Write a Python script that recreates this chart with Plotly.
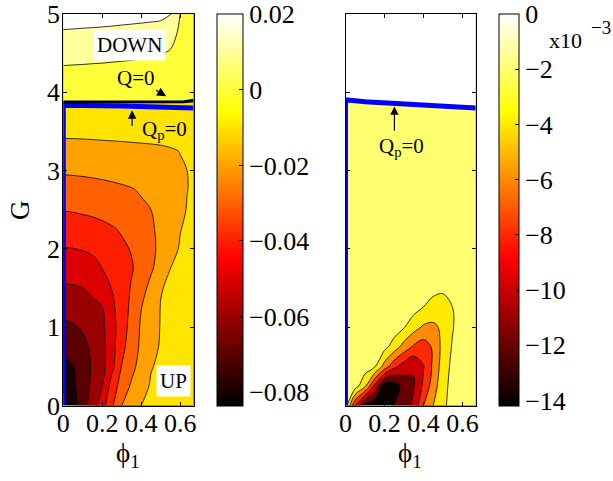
import plotly.graph_objects as go

W, H = 613, 481

# ---------------- data ----------------
X_GRID = [0, 0.05, 0.1, 0.15, 0.2, 0.25, 0.3, 0.35, 0.4, 0.45, 0.5, 0.55, 0.6, 0.635, 0.668]

# left panel field, units of 1e-3
Y_LEFT = [0, 0.25, 0.5, 0.75, 1.0, 1.25, 1.5, 1.75, 2.0, 2.25, 2.5, 2.75,
          3.0, 3.25, 3.5, 3.75, 4.0, 4.25, 4.5, 4.75, 5.0]
Z_LEFT_MILLI = [
    [-83.7, -74.7, -65.1, -54.3, -44.0, -31.4, -20.0, -15.0, -10.0, -8.5, -7.2, -6.2, -5.3, -4.7, -4.2],
    [-78.3, -71.9, -65.0, -57.7, -50.0, -35.7, -25.6, -18.7, -13.0, -9.2, -8.0, -7.0, -6.0, -5.4, -4.9],
    [-72.9, -70.3, -64.5, -58.8, -52.9, -42.4, -29.5, -22.7, -16.4, -10.4, -8.8, -7.6, -6.6, -6.0, -5.5],
    [-67.5, -64.7, -62.0, -58.5, -53.0, -43.5, -32.8, -24.9, -18.2, -12.7, -9.2, -7.9, -6.9, -6.3, -5.8],
    [-62.1, -61.0, -59.2, -55.5, -51.8, -43.7, -34.5, -26.4, -18.7, -13.5, -9.6, -8.2, -7.2, -6.6, -6.1],
    [-56.7, -56.3, -55.2, -53.2, -50.2, -42.0, -34.9, -27.8, -20.2, -14.5, -9.7, -8.4, -7.4, -6.8, -6.3],
    [-51.3, -50.9, -50.1, -47.1, -43.4, -39.7, -34.5, -29.2, -23.4, -17.3, -10.4, -8.8, -7.7, -7.1, -6.6],
    [-45.9, -45.6, -44.8, -43.2, -40.0, -36.9, -33.9, -30.8, -26.3, -21.3, -15.7, -10.0, -8.6, -7.9, -7.4],
    [-40.5, -40.2, -39.5, -38.5, -36.5, -33.8, -31.5, -29.5, -26.0, -22.2, -17.7, -12.6, -9.3, -8.4, -7.9],
    [-35.1, -34.8, -34.1, -33.2, -32.0, -30.8, -29.2, -26.5, -23.8, -21.2, -17.9, -14.1, -10.2, -9.0, -8.4],
    [-29.7, -29.3, -28.7, -28.2, -27.5, -26.5, -25.2, -23.4, -21.5, -20.0, -17.1, -14.3, -11.5, -9.7, -9.0],
    [-24.3, -24.0, -23.5, -23.1, -22.6, -22.0, -21.3, -20.6, -19.2, -17.2, -15.3, -13.4, -11.5, -10.1, -9.3],
    [-18.9, -18.7, -18.5, -18.2, -17.8, -17.4, -16.9, -16.2, -15.2, -14.2, -13.1, -12.0, -10.9, -10.0, -9.4],
    [-13.5, -13.4, -13.2, -13.0, -12.7, -12.5, -12.3, -12.1, -11.9, -11.7, -11.4, -10.8, -9.8, -8.7, -8.2],
    [-8.1, -8.05, -8.0, -7.9, -7.8, -7.7, -7.6, -7.4, -7.2, -7.0, -6.7, -6.3, -5.9, -5.6, -5.3],
    [-2.6, -2.6, -2.5, -2.5, -2.4, -2.4, -2.3, -2.2, -2.1, -2.05, -2.0, -1.7, -1.0, -0.85, -0.7],
    [2.6, 2.6, 2.5, 2.5, 2.4, 2.4, 2.3, 2.2, 2.1, 2.05, 2.0, 1.7, 1.0, 0.85, 0.7],
    [8.1, 7.9, 7.8, 7.6, 7.5, 7.3, 7.2, 7.0, 6.8, 6.5, 6.2, 5.3, 3.2, 2.8, 2.3],
    [13.3, 13.2, 13.0, 12.8, 12.6, 12.3, 12.0, 11.7, 11.3, 11.0, 10.6, 8.9, 5.4, 4.7, 3.9],
    [18.9, 18.7, 18.5, 18.3, 18.1, 17.9, 17.6, 17.3, 17.0, 16.7, 16.3, 14.5, 7.6, 6.6, 5.5],
    [24.3, 24.2, 24.0, 23.9, 23.7, 23.4, 23.1, 22.9, 22.6, 22.3, 21.9, 20.9, 9.9, 8.5, 7.0],
]

# right panel field, units of 1e-3 (positive = blank region above Qp=0)
Y_RIGHT = [0, 0.25, 0.5, 0.75, 1.0, 1.25, 1.5, 1.75, 3.75, 4.0, 5.0]
Z_RIGHT_MILLI = [
    [-1.0, -8.0, -12.8, -13.8, -13.5, -11.9, -11.0, -9.6, -6.0, -4.0, -2.4, -1.3, -1.0, -1.0, -1.0],
    [-1.0, -1.1, -3.6, -8.5, -13.5, -13.0, -11.2, -10.1, -7.6, -5.0, -2.6, -1.4, -1.0, -1.0, -1.0],
    [-1.0, -1.0, -1.0, -1.8, -4.8, -7.5, -9.0, -9.9, -8.1, -5.6, -3.0, -1.5, -1.0, -1.0, -1.0],
    [-1.0, -1.0, -1.0, -1.0, -1.4, -2.9, -4.8, -6.3, -7.0, -5.7, -3.3, -1.8, -1.0, -1.0, -1.0],
    [-1.0, -1.0, -1.0, -1.0, -1.0, -1.0, -1.9, -3.2, -4.3, -4.4, -3.6, -2.1, -1.0, -1.0, -1.0],
    [-1.0, -1.0, -1.0, -1.0, -1.0, -1.0, -1.0, -1.3, -2.05, -2.8, -3.0, -2.0, -1.0, -1.0, -1.0],
    [-1.0, -1.0, -1.0, -1.0, -1.0, -1.0, -1.0, -1.0, -1.0, -1.4, -1.6, -1.3, -1.0, -1.0, -1.0],
    [-1.0, -1.0, -1.0, -1.0, -1.0, -1.0, -1.0, -1.0, -1.0, -1.0, -1.0, -1.0, -1.0, -1.0, -1.0],
    [-1.0, -1.0, -1.0, -1.0, -1.0, -1.0, -1.0, -1.0, -1.0, -1.0, -1.0, -1.0, -1.0, -1.0, -1.0],
    [0.67, 0.75, 0.85, 0.96, 1.08, 1.22, 1.38, 1.56, 1.78, 2.03, 2.33, 2.70, 3.17, 3.57, 4.0],
    [5.0, 5.0, 5.0, 5.0, 5.0, 5.0, 5.0, 5.0, 5.0, 5.0, 5.0, 5.0, 5.0, 5.0, 5.0],
]

# contour levels
LEFT_START, LEFT_END, LEFT_STEP = -0.08, 0.02, 0.01
RIGHT_START, RIGHT_END, RIGHT_STEP = -0.014, 0.0, 0.002
# colour limits of the two colour bars
LEFT_CLIM = [-0.0837, 0.0201]
RIGHT_CLIM = [-0.0142, 0.0]

# flat band colours (MATLAB hot, colour of each band's lower level)
LEFT_BAND_COLORS = ["#000000", "#180000", "#5A0000", "#9B0000", "#DD0000", "#FF1F00",
                    "#FF6100", "#FFA200", "#FFE400", "#FFFF39", "#FFFF9C", "#FFFFFF"]
RIGHT_BAND_COLORS = ["#000000", "#0A0000", "#690000", "#C90000", "#FF2A00",
                     "#FF8A00", "#FFE900", "#FFFF6F", "#FFFFFF"]

LEFT_CB_TICKS = [-0.08, -0.06, -0.04, -0.02, 0, 0.02]
LEFT_CB_TEXT = ["\u22120.08", "\u22120.06", "\u22120.04", "\u22120.02", "0", "0.02"]
RIGHT_CB_TICKS = [-0.014, -0.012, -0.010, -0.008, -0.006, -0.004, -0.002, 0]
RIGHT_CB_TEXT = ["\u221214", "\u221212", "\u221210", "\u22128", "\u22126", "\u22124", "\u22122", "0"]

X_TICKS = [0, 0.2, 0.4, 0.6]
X_TICKTEXT = ["0", "0.2", "0.4", "0.6"]
Y_TICKS = [0, 1, 2, 3, 4, 5]

# Qp = 0 (blue) and Q = 0 (black) lines
QP_LEFT_X = [0, 0, 0.3, 0.5, 0.668]
QP_LEFT_Y = [0, 3.835, 3.825, 3.815, 3.80]
Q_LEFT_X = [0, 0.5, 0.62, 0.668]
Q_LEFT_Y = [3.875, 3.875, 3.88, 3.90]
QP_RIGHT_X = [0, 0, 0.1, 0.28, 0.54, 0.668]
QP_RIGHT_Y = [0, 3.905, 3.88, 3.85, 3.81, 3.80]

# ---------------- styling ----------------
FONT = "Liberation Serif, Times New Roman, serif"
HOT = [[0, "rgb(0,0,0)"], [0.375, "rgb(255,0,0)"], [0.75, "rgb(255,255,0)"], [1, "rgb(255,255,255)"]]


def px_x(p):
    return p / W


def px_y(p):
    return 1 - p / H


def band_scale(colors):
    n = len(colors) - 1
    return [[k / n, c] for k, c in enumerate(colors)]


ZL = [[v * 1e-3 for v in row] for row in Z_LEFT_MILLI]
ZR = [[v * 1e-3 for v in row] for row in Z_RIGHT_MILLI]

fig = go.Figure()

fig.add_trace(go.Contour(
    x=X_GRID, y=Y_LEFT, z=ZL, autocontour=False,
    contours=dict(start=LEFT_START, end=LEFT_END, size=LEFT_STEP, coloring="fill", showlines=True),
    line=dict(color="black", width=0.8, smoothing=1),
    colorscale=band_scale(LEFT_BAND_COLORS), showscale=False, hoverinfo="skip",
    xaxis="x", yaxis="y"))

fig.add_trace(go.Contour(
    x=X_GRID, y=Y_RIGHT, z=ZR, autocontour=False,
    contours=dict(start=RIGHT_START, end=RIGHT_END, size=RIGHT_STEP, coloring="fill", showlines=True),
    line=dict(color="black", width=0.8, smoothing=1),
    colorscale=band_scale(RIGHT_BAND_COLORS), showscale=False, hoverinfo="skip",
    xaxis="x2", yaxis="y2"))

# Qp=0 and Q=0 lines
fig.add_trace(go.Scatter(x=QP_LEFT_X, y=QP_LEFT_Y, mode="lines",
                         line=dict(color="#0000FF", width=5), hoverinfo="skip",
                         showlegend=False, xaxis="x", yaxis="y"))
fig.add_trace(go.Scatter(x=Q_LEFT_X, y=Q_LEFT_Y, mode="lines",
                         line=dict(color="black", width=3), hoverinfo="skip",
                         showlegend=False, xaxis="x", yaxis="y"))
fig.add_trace(go.Scatter(x=QP_RIGHT_X, y=QP_RIGHT_Y, mode="lines",
                         line=dict(color="#0000FF", width=5), hoverinfo="skip",
                         showlegend=False, xaxis="x2", yaxis="y2"))

# continuous colour bars
CB_TOP, CB_BOT = 14, 406
cb_common = dict(
    thicknessmode="pixels", lenmode="fraction", len=(CB_BOT - CB_TOP) / H,
    y=px_y((CB_TOP + CB_BOT) / 2), yanchor="middle", xanchor="left",
    xpad=0, ypad=0, outlinewidth=1, outlinecolor="black",
    ticks="inside", ticklen=4, tickcolor="black", ticklabeloverflow="allow",
    tickfont=dict(family=FONT, size=26, color="black"))

fig.add_trace(go.Scatter(
    x=[0.3, 0.3], y=[2, 2], mode="markers", hoverinfo="skip", showlegend=False,
    marker=dict(size=1, opacity=0, color=LEFT_CLIM, colorscale=HOT,
                cmin=LEFT_CLIM[0], cmax=LEFT_CLIM[1], showscale=True,
                colorbar=dict(thickness=26, x=px_x(216.5),
                              tickvals=LEFT_CB_TICKS, ticktext=LEFT_CB_TEXT, **cb_common)),
    xaxis="x", yaxis="y"))
fig.add_trace(go.Scatter(
    x=[0.3, 0.3], y=[2, 2], mode="markers", hoverinfo="skip", showlegend=False,
    marker=dict(size=1, opacity=0, color=RIGHT_CLIM, colorscale=HOT,
                cmin=RIGHT_CLIM[0], cmax=RIGHT_CLIM[1], showscale=True,
                colorbar=dict(thickness=20, x=px_x(498.5),
                              tickvals=RIGHT_CB_TICKS, ticktext=RIGHT_CB_TEXT, **cb_common)),
    xaxis="x2", yaxis="y2"))

axis_common = dict(showline=True, linecolor="black", linewidth=1, mirror="ticks",
                   ticks="inside", ticklen=4, tickcolor="black", showgrid=False,
                   zeroline=False, automargin=False,
                   tickfont=dict(family=FONT, size=26, color="black"))
Y_DOM = [px_y(405.6), px_y(14)]

fig.update_layout(
    width=W, height=H, margin=dict(l=0, r=0, t=0, b=0, pad=0, autoexpand=False),
    paper_bgcolor="white", plot_bgcolor="white", showlegend=False,
    xaxis=dict(domain=[px_x(63.3), px_x(193.5)], range=[0, 0.668], ticklabelstandoff=-6,
               tickvals=X_TICKS, ticktext=X_TICKTEXT, anchor="y", **axis_common),
    yaxis=dict(domain=Y_DOM, range=[0, 5], tickvals=Y_TICKS, anchor="x",
               ticklabelstandoff=-3, **axis_common),
    xaxis2=dict(domain=[px_x(345.5), px_x(475.7)], range=[0, 0.668], ticklabelstandoff=-6,
                tickvals=X_TICKS, ticktext=X_TICKTEXT, anchor="y2", **axis_common),
    yaxis2=dict(domain=Y_DOM, range=[0, 5], tickvals=Y_TICKS, anchor="x2",
                showticklabels=False, **axis_common),
)

ann_font = dict(family=FONT, size=21, color="black")
big_font = dict(family=FONT, size=27, color="black")
annotations = [
    # axis titles
    dict(text="G", x=px_x(20), y=px_y(210), xref="paper", yref="paper",
         xanchor="center", yanchor="middle",
         textangle=-90, showarrow=False, font=big_font),
    dict(text="\u03d5<sub>1</sub>", x=px_x(128), y=px_y(455), xref="paper", yref="paper",
         xanchor="center", yanchor="middle", showarrow=False, font=big_font),
    dict(text="\u03d5<sub>1</sub>", x=px_x(410), y=px_y(455), xref="paper", yref="paper",
         xanchor="center", yanchor="middle", showarrow=False, font=big_font),
    # colour bar exponent
    dict(text="x10", x=px_x(547), y=px_y(41), xref="paper", yref="paper",
         xanchor="left", yanchor="middle", showarrow=False,
         font=dict(family=FONT, size=22, color="black")),
    dict(text="\u22123", x=px_x(589), y=px_y(27), xref="paper", yref="paper",
         xanchor="left", yanchor="middle", showarrow=False,
         font=dict(family=FONT, size=19, color="black")),
    # region labels
    dict(text="DOWN", x=0.338, y=4.6, xref="x", yref="y", showarrow=False,
         bgcolor="white", borderpad=3, font=ann_font),
    dict(text="UP", x=0.564, y=0.32, xref="x", yref="y", showarrow=False,
         bgcolor="white", borderpad=3, font=ann_font),
    # Q = 0
    dict(text="Q=0", x=0.528, y=3.95, xref="x", yref="y",
         ax=0.371, ay=4.18, axref="x", ayref="y",
         showarrow=True, arrowhead=2, arrowsize=1.4, arrowwidth=1.3, arrowcolor="black",
         font=ann_font),
    # Qp = 0 (left)
    dict(text="", x=0.353, y=3.77, xref="x", yref="y",
         ax=0.353, ay=3.55, axref="x", ayref="y",
         showarrow=True, arrowhead=2, arrowsize=1.4, arrowwidth=1.2, arrowcolor="black"),
    dict(text="Q<sub>p</sub>=0", x=0.52, y=3.52, xref="x", yref="y", showarrow=False,
         font=ann_font),
    # Qp = 0 (right)
    dict(text="", x=0.251, y=3.82, xref="x2", yref="y2",
         ax=0.251, ay=3.49, axref="x2", ayref="y2",
         showarrow=True, arrowhead=2, arrowsize=1.4, arrowwidth=1.2, arrowcolor="black"),
    dict(text="Q<sub>p</sub>=0", x=0.285, y=3.3, xref="x2", yref="y2", showarrow=False,
         font=ann_font),
]
fig.update_layout(annotations=annotations)

fig.write_html("out.html")
